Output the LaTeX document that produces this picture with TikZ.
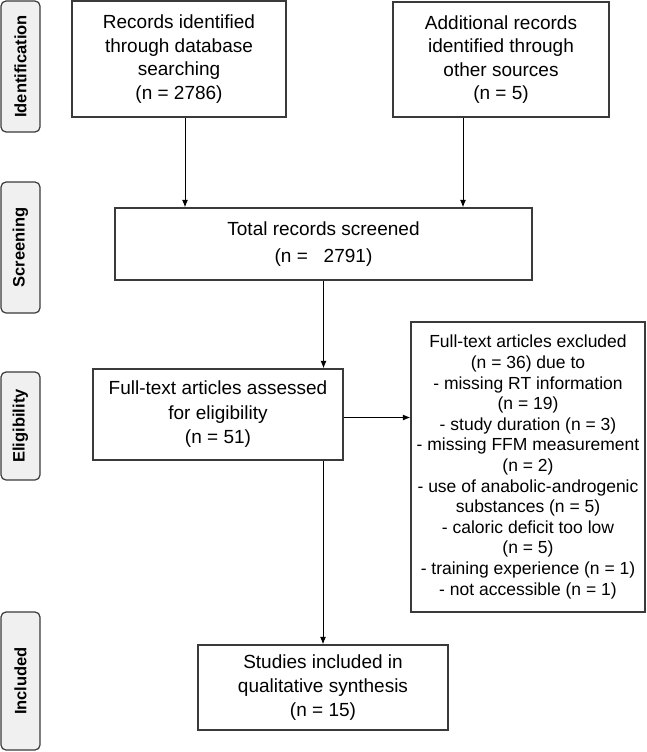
\documentclass[tikz,border=0pt]{standalone}
\usepackage{fontspec}
\setmainfont{Liberation Sans}
\usetikzlibrary{arrows.meta}
\definecolor{bordergray}{HTML}{3A3A3A}
\definecolor{sidefill}{HTML}{F0F0F0}
\tikzset{
  box/.style={draw=bordergray, line width=1.3pt, align=center, inner sep=2pt,
    font=\fontsize{19}{23.6}\selectfont},
  exbox/.style={draw=bordergray, line width=1.3pt, align=center, inner sep=2pt,
    font=\fontsize{17.5}{20.6}\selectfont},
  side/.style={draw=bordergray, fill=sidefill, line width=1.2pt, rounded corners=5pt,
    rotate=90, minimum height=39pt, inner sep=0pt, font=\fontsize{16.5}{18}\selectfont\bfseries},
  arr/.style={draw=black, line width=1pt, -{Latex[length=7.5pt,width=6pt]}}
}
\begin{document}
\begin{tikzpicture}[x=1pt,y=1pt]
\useasboundingbox (0,0) rectangle (646,-752);
% side labels
\node[side, minimum width=131pt] (sid) at (20.5,-66.5) {Identification};
\node[side, minimum width=131pt] (ssc) at (20.5,-247.5) {Screening};
\node[side, minimum width=108pt] (sel) at (20.5,-426) {Eligibility};
\node[side, minimum width=138pt] (sin) at (20.5,-681) {Included};
% main boxes
\node[box, minimum width=214pt, minimum height=116pt] (A) at (179,-59)
  {Records identified\\through database\\searching\\(n = 2786)};
\node[box, minimum width=216pt, minimum height=115pt] (B) at (501,-59.5)
  {Additional records\\identified through\\other sources\\(n = 5)};
\node[box, minimum width=417pt, minimum height=72pt, font=\fontsize{19}{26.5}\selectfont] (T) at (323.5,-244)
  {Total records screened\\(n =\ \ \ 2791)};
\node[box, minimum width=250pt, minimum height=91pt, font=\fontsize{19}{24.5}\selectfont] (F) at (218,-414.5)
  {Full-text articles assessed\\for eligibility\\(n = 51)};
\node[exbox, minimum width=234pt, minimum height=290pt] (E) at (528,-467)
  {Full-text articles excluded\\(n = 36) due to\\- missing RT information\\(n = 19)\\- study duration (n = 3)\\- missing FFM measurement\\(n = 2)\\- use of anabolic-androgenic\\substances (n = 5)\\- caloric deficit too low\\(n = 5)\\- training experience (n = 1)\\- not accessible (n = 1)};
\node[box, minimum width=250pt, minimum height=85pt] (I) at (323,-687.5)
  {Studies included in\\qualitative synthesis\\(n = 15)};
% connectors
\draw[arr] ([xshift=6pt]A.south) -- ([xshift=6pt]A.south |- T.north);
\draw[arr] ([xshift=-38pt]B.south) -- ([xshift=-38pt]B.south |- T.north);
\draw[arr] (T.south) -- (T.south |- F.north);
\draw[arr] ([yshift=-3pt]F.east) -- ([yshift=-3pt]F.east -| E.west);
\draw[arr] (I.north |- F.south) -- (I.north);
\end{tikzpicture}
\end{document}
